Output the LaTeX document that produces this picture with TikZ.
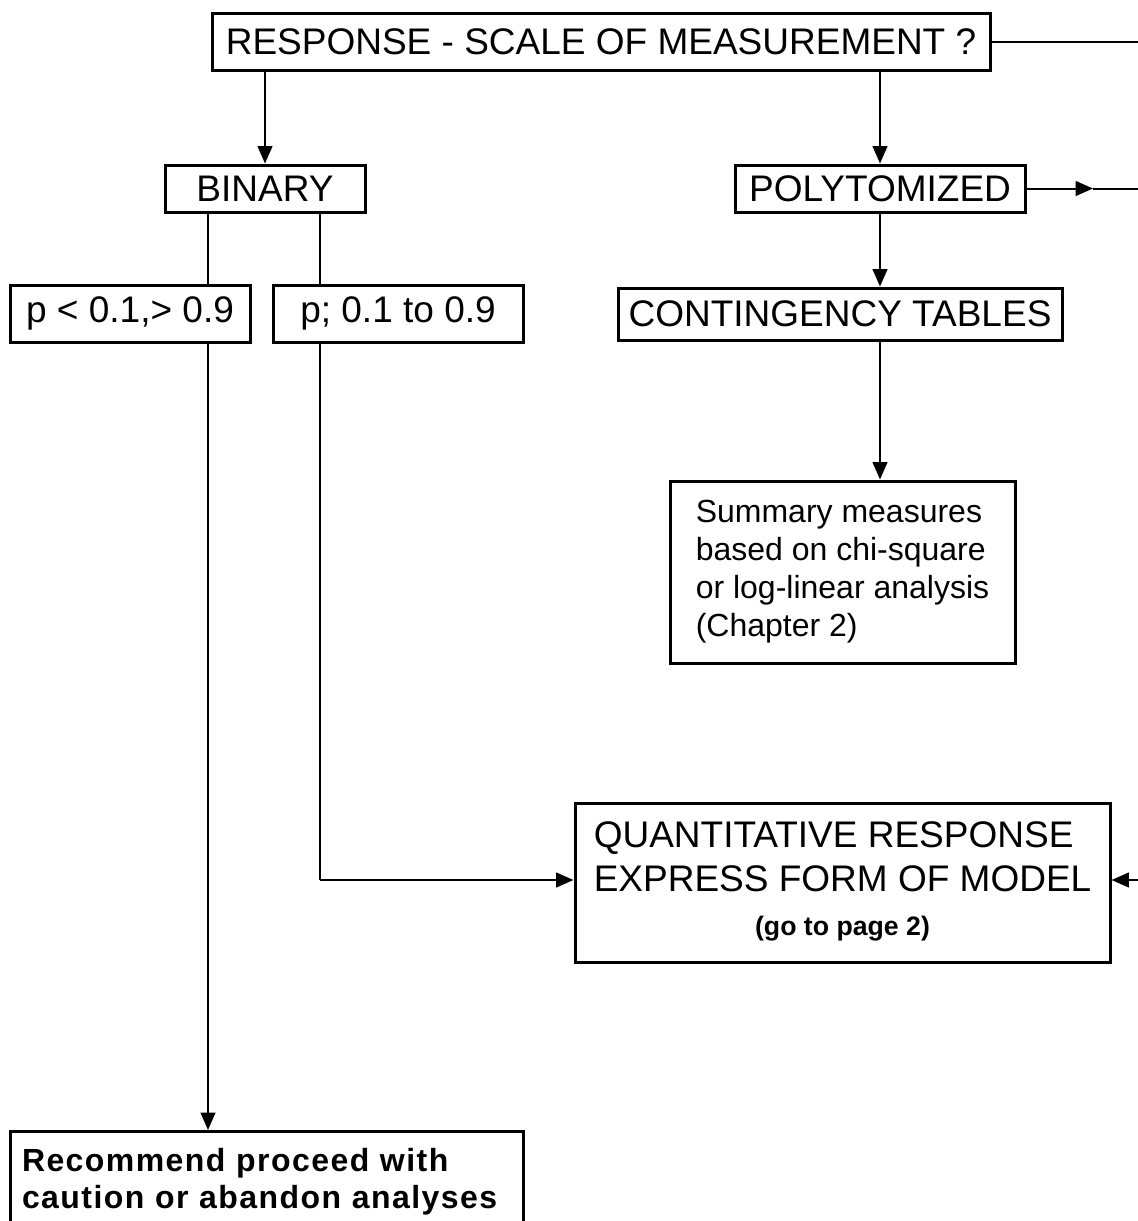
\documentclass[tikz,border=0pt]{standalone}
\usepackage{fontspec}
\setmainfont{Liberation Sans}
\newfontfamily\recfont[LetterSpace=4.5]{Liberation Sans}
\usetikzlibrary{arrows.meta}

\tikzset{every picture/.style={line width=1.5pt}}
\tikzset{
  box/.style={draw, line width=2.25pt, inner sep=0pt, anchor=center,
    font=\fontsize{27.75}{33}\selectfont},
  smallbox/.style={box, align=left, font=\fontsize{24}{28.5}\selectfont},
  boldbox/.style={box, align=left, font=\recfont\bfseries\fontsize{24}{27.75}\selectfont},
  arr/.style={-{Triangle[length=13pt,width=11pt]}}
}

\begin{document}
\begin{tikzpicture}[x=0.75pt,y=0.75pt,yscale=-1,xscale=1]
\useasboundingbox (0,0) rectangle (1138,1221);

% Boxes (sizes in pt)
\node [box, minimum width=583.5pt, minimum height=42.75pt] (root) at (601,42) {RESPONSE - SCALE OF MEASUREMENT ?};
\node [box, minimum width=150pt, minimum height=35.25pt] (binary) at (265,188.5) {BINARY};
\node [box, minimum width=217.5pt, minimum height=35.25pt] (poly) at (880,188.5) {POLYTOMIZED};
\node [box, minimum width=333pt, minimum height=39pt] (conting) at (840,314) {CONTINGENCY TABLES};
\node [box, minimum width=180pt, minimum height=42.75pt] (plow) at (130,313.5) {p < 0.1,> 0.9};
\node [box, minimum width=187.5pt, minimum height=42.75pt] (pmid) at (398,313.5) {p; 0.1 to 0.9};
\node [smallbox, minimum width=258.75pt, minimum height=136.5pt] (summ) at (842.5,572) {Summary measures\\based on chi-square\\or log-linear analysis\\(Chapter 2)};
\node [box, minimum width=401.25pt, minimum height=119.25pt] (quant) at (842.5,882.5)
  {\begin{tabular}{@{}l@{}}QUANTITATIVE RESPONSE\\EXPRESS FORM OF MODEL\\
   \multicolumn{1}{@{}c@{}}{\bfseries\fontsize{20}{24}\selectfont (go to page 2)}\end{tabular}};
\node [boldbox, text width=366.75pt, inner xsep=9pt, inner ysep=12.5pt, anchor=north] (recom) at (266.5,1130)
  {Recommend proceed with\\caution or abandon analyses\\[30pt]\mbox{}};

% Points at the edge and bends
\coordinate (rootout) at (1138,42);
\coordinate (polytip) at (1093,188.5);
\coordinate (polyout) at (1138,188.5);
\coordinate (quantin) at (1138,880);
\coordinate (lft) at (208,0);
\coordinate (rgt) at (320,0);
\coordinate (bend) at (320,880);

% Connectors
\draw [arr] (binary.north |- root.south) -- (binary.north);
\draw [arr] (poly.north |- root.south) -- (poly.north);
\draw (root.east) -- (rootout);
\draw [arr] (poly.east) -- (polytip);
\draw (polytip) -- (polyout);
\draw [arr] (poly.south) -- (poly.south |- conting.north);
\draw [arr] (poly.south |- conting.south) -- (poly.south |- summ.north);
\draw (binary.south -| lft) -- (plow.north -| lft);
\draw (binary.south -| rgt) -- (pmid.north -| rgt);
\draw [arr] (plow.south -| lft) -- (recom.north -| lft);
\draw (pmid.south -| rgt) -- (bend);
\draw [arr] (bend) -- (bend -| quant.west);
\draw [arr] (quantin) -- (quantin -| quant.east);

\end{tikzpicture}
\end{document}
